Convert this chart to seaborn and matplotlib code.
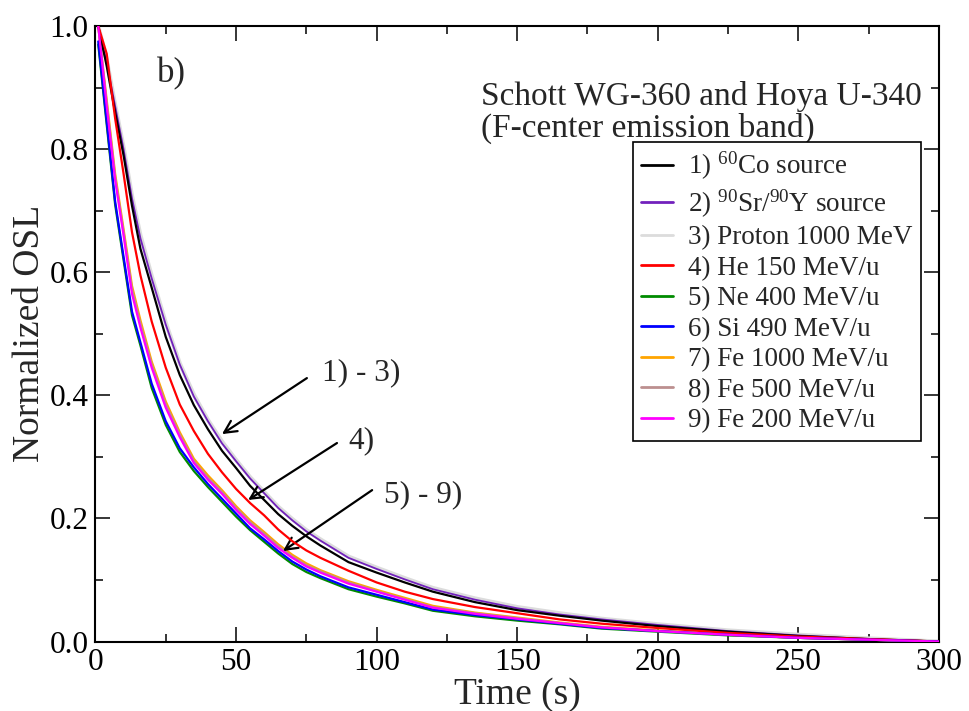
import numpy as np
import pandas as pd
import matplotlib
matplotlib.use("Agg")
import matplotlib.pyplot as plt
import seaborn as sns
from matplotlib.ticker import MultipleLocator, FormatStrFormatter

# Time axis (s) at which the decay curves are tabulated
time_s = [1, 4, 7, 10, 13, 16, 20, 25, 30, 35, 40, 45, 50, 55, 60, 65, 70, 75, 80, 90,
          100, 110, 120, 135, 150, 165, 180, 200, 225, 250, 275, 300]

# Normalized OSL decay curves
co60 = [1.0, 0.935, 0.86, 0.79, 0.708, 0.638, 0.575, 0.495, 0.433, 0.384, 0.345, 0.31,
        0.282, 0.253, 0.23, 0.207, 0.188, 0.171, 0.156, 0.129, 0.112, 0.096, 0.081, 0.064,
        0.051, 0.042, 0.034, 0.025, 0.016, 0.009, 0.004, 0.0]
sr90 = [1.0, 0.94, 0.87, 0.80, 0.72, 0.655, 0.59, 0.515, 0.45, 0.398, 0.358, 0.322,
        0.293, 0.265, 0.241, 0.217, 0.197, 0.179, 0.164, 0.136, 0.118, 0.101, 0.085, 0.068,
        0.054, 0.044, 0.036, 0.027, 0.017, 0.010, 0.004, 0.0]
proton = [1.0, 0.945, 0.872, 0.803, 0.724, 0.66, 0.594, 0.518, 0.452, 0.401, 0.36, 0.325,
          0.295, 0.267, 0.243, 0.219, 0.199, 0.181, 0.166, 0.138, 0.12, 0.103, 0.087, 0.07,
          0.056, 0.046, 0.037, 0.028, 0.018, 0.011, 0.005, 0.0]
he150 = [1.0, 0.955, 0.85, 0.76, 0.665, 0.595, 0.52, 0.445, 0.385, 0.342, 0.305, 0.275,
         0.248, 0.225, 0.205, 0.182, 0.163, 0.148, 0.136, 0.115, 0.096, 0.081, 0.069, 0.056,
         0.046, 0.036, 0.029, 0.022, 0.014, 0.008, 0.004, 0.0]
ne400 = [0.97, 0.84, 0.71, 0.62, 0.53, 0.481, 0.412, 0.352, 0.308, 0.277, 0.251, 0.227,
         0.203, 0.181, 0.162, 0.143, 0.126, 0.113, 0.103, 0.085, 0.073, 0.062, 0.05, 0.041,
         0.034, 0.028, 0.021, 0.016, 0.01, 0.006, 0.003, 0.0]
si490 = [0.975, 0.845, 0.715, 0.625, 0.536, 0.486, 0.419, 0.358, 0.314, 0.283, 0.256, 0.232,
         0.208, 0.184, 0.166, 0.147, 0.13, 0.117, 0.106, 0.088, 0.076, 0.064, 0.052, 0.043,
         0.036, 0.029, 0.022, 0.017, 0.011, 0.006, 0.003, 0.0]
fe1000 = [1.0, 0.88, 0.76, 0.67, 0.578, 0.522, 0.455, 0.39, 0.34, 0.297, 0.27, 0.246,
          0.22, 0.197, 0.178, 0.158, 0.141, 0.127, 0.116, 0.098, 0.084, 0.071, 0.058, 0.047,
          0.039, 0.031, 0.024, 0.018, 0.011, 0.006, 0.003, 0.0]
fe500 = [1.0, 0.875, 0.755, 0.665, 0.572, 0.516, 0.45, 0.385, 0.336, 0.293, 0.266, 0.243,
         0.217, 0.194, 0.175, 0.155, 0.138, 0.124, 0.114, 0.096, 0.082, 0.069, 0.056, 0.046,
         0.038, 0.03, 0.023, 0.017, 0.011, 0.006, 0.003, 0.0]
fe200 = [1.0, 0.87, 0.75, 0.66, 0.565, 0.51, 0.445, 0.38, 0.332, 0.29, 0.263, 0.24,
         0.214, 0.191, 0.172, 0.152, 0.136, 0.122, 0.112, 0.094, 0.081, 0.068, 0.055, 0.045,
         0.037, 0.030, 0.023, 0.017, 0.011, 0.006, 0.003, 0.0]

labels = [r"1) $^{\mathrm{60}}$Co source",
          r"2) $^{\mathrm{90}}$Sr/$^{\mathrm{90}}$Y source",
          "3) Proton 1000 MeV",
          "4) He 150 MeV/u",
          "5) Ne 400 MeV/u",
          "6) Si 490 MeV/u",
          "7) Fe 1000 MeV/u",
          "8) Fe 500 MeV/u",
          "9) Fe 200 MeV/u"]
series = [co60, sr90, proton, he150, ne400, si490, fe1000, fe500, fe200]
colors = ["#000000", "#7221bc", "#dcdcdc", "#ff0000", "#008b00",
          "#0000ff", "#ffa500", "#bc8f8f", "#ff00ff"]
widths = [1.6, 1.3, 3.0, 1.6, 1.6, 1.6, 1.6, 1.6, 1.6]
zorders = [4, 3, 2, 4, 3, 4, 3, 3, 5]

frames = []
for lab, vals in zip(labels, series):
    frames.append(pd.DataFrame({"Time": time_s, "OSL": vals, "Source": lab}))
df = pd.concat(frames, ignore_index=True)

sns.set_theme(style="ticks")
plt.rcParams["font.family"] = ["Liberation Serif", "DejaVu Serif"]
plt.rcParams["mathtext.fontset"] = "custom"
plt.rcParams["mathtext.rm"] = "Liberation Serif"
plt.rcParams["mathtext.it"] = "Liberation Serif:italic"

fig = plt.figure(figsize=(9.69, 7.11), dpi=100)
ax = fig.add_axes([0.0985, 0.0977, 0.8705, 0.8657])

for lab, col, lw, z in zip(labels, colors, widths, zorders):
    sns.lineplot(data=df[df["Source"] == lab], x="Time", y="OSL", ax=ax,
                 color=col, linewidth=lw, label=lab, zorder=z, sort=False)

ax.set_xlim(0, 300)
ax.set_ylim(0, 1.0)
ax.xaxis.set_major_locator(MultipleLocator(50))
ax.xaxis.set_minor_locator(MultipleLocator(25))
ax.yaxis.set_major_locator(MultipleLocator(0.2))
ax.yaxis.set_minor_locator(MultipleLocator(0.1))
ax.yaxis.set_major_formatter(FormatStrFormatter("%.1f"))
ax.tick_params(which="both", direction="in", top=True, right=True,
               labelsize=22.5, width=1.1, colors="black")
ax.tick_params(which="major", length=10.5, pad=5)
ax.tick_params(which="minor", length=5.5)
for sp in ax.spines.values():
    sp.set_linewidth(1.5)
    sp.set_color("black")

ax.set_xlabel("Time (s)", fontsize=27, labelpad=0)
ax.set_ylabel("Normalized OSL", fontsize=27, labelpad=2)

leg = ax.legend(loc="upper left", bbox_to_anchor=(0.637, 0.8115),
                borderaxespad=0, fontsize=19.5, frameon=True, fancybox=False,
                edgecolor="black", framealpha=1, labelspacing=0.2,
                handlelength=1.2, handletextpad=0.55, borderpad=0.3)
leg.get_frame().set_linewidth(1.2)
for h in leg.get_lines():
    h.set_linewidth(2.0)

ax.text(21.9, 0.922, "b)", fontsize=25, ha="left", va="center")
ax.text(137, 0.886, "Schott WG-360 and Hoya U-340", fontsize=24,
        ha="left", va="center")
ax.text(137, 0.834, "(F-center emission band)", fontsize=24,
        ha="left", va="center")

arrow = dict(arrowstyle="->", color="black", lw=1.6, mutation_scale=22,
             shrinkA=0, shrinkB=0)
ax.annotate("", xy=(45.0, 0.337), xytext=(75.2, 0.428), arrowprops=arrow)
ax.annotate("", xy=(54.3, 0.230), xytext=(85.9, 0.3225), arrowprops=arrow)
ax.annotate("", xy=(66.7, 0.147), xytext=(98.4, 0.246), arrowprops=arrow)
ax.text(80.6, 0.436, "1) - 3)", fontsize=22.5, ha="left", va="center")
ax.text(89.8, 0.327, "4)", fontsize=22.5, ha="left", va="center")
ax.text(102.6, 0.238, "5) - 9)", fontsize=22.5, ha="left", va="center")

fig.savefig("out.png", dpi=100)
